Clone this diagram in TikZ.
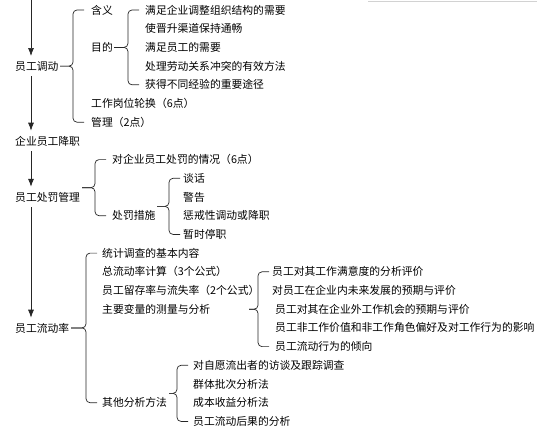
\documentclass[tikz,border=0pt]{standalone}
\usepackage{fontspec}
\setmainfont{Noto Sans CJK SC}
\usetikzlibrary{arrows.meta}

\begin{document}
\begin{tikzpicture}[x=1pt,y=-1pt,
  txt/.style={anchor=west,inner sep=0pt,font=\fontsize{10.8}{13}\selectfont},
  main/.style={txt,inner ysep=5pt},
  brc/.style={rounded corners=4pt,line width=0.7pt,black!85},
  arr/.style={-{Latex[length=8pt,width=6pt]},line width=0.7pt,black!85}]
  \useasboundingbox (0,0) rectangle (537,437);
  \def\r{18.7}
  \draw[gray!35] (368,1) -- (537,1);
  % colonna principale
  \coordinate (top) at (31,0);
  \node[main] (diaodong) at (15,10+3*\r)  {员工调动};
  \node[main] (jiangzhi) at (15,10+7*\r)  {企业员工降职};
  \node[main] (chufa)    at (15,10+10*\r) {员工处罚管理};
  \node[main] (liudong)  at (15,10+17*\r) {员工流动率};
  \draw[arr] (top) -- (diaodong.north -| top);
  \draw[arr] (diaodong.south -| top) -- (jiangzhi.north -| top);
  \draw[arr] (jiangzhi.south -| top) -- (chufa.north -| top);
  \draw[arr] (chufa.south -| top) -- (liudong.north -| top);

  %员工调动
  \node[txt] (hanyi)   at (91,10+0*\r) {含义};
  \node[txt] (mudi)    at (91,10+2*\r) {目的};
  \node[txt] (lunhuan) at (91,10+5*\r) {工作岗位轮换（6点）};
  \node[txt] (guanli)  at (91,10+6*\r) {管理（2点）};
  \foreach \t [count=\i from 0] in {满足企业调整组织结构的需要,使晋升渠道保持通畅,
    满足员工的需要,处理劳动关系冲突的有效方法,获得不同经验的重要途径}
    \node[txt] (md\i) at (145,10+\i*\r) {\t};

  % 员工处罚管理
  \node[txt] (qingkuang) at (112,10+8*\r)  {对企业员工处罚的情况（6点）};
  \node[txt] (cuoshi)    at (112,10+11*\r) {处罚措施};
  \foreach \t [count=\i from 9] in {谈话,警告,惩戒性调动或降职,暂时停职}
    \node[txt] (cs\i) at (183,10+\i*\r) {\t};

  % 员工流动率
  \node[txt] (tongji)  at (102,10+13*\r) {统计调查的基本内容};
  \node[txt] (zong)    at (102,10+14*\r) {总流动率计算（3个公式）};
  \node[txt] (liucun)  at (102,10+15*\r) {员工留存率与流失率（2个公式）};
  \node[txt] (bianliang) at (102,10+16*\r) {主要变量的测量与分析};
  \node[txt] (qita)    at (102,10+21*\r) {其他分析方法};
  \foreach \x/\t [count=\i from 14] in {272/员工对其工作满意度的分析评价,
    272/对员工在企业内未来发展的预期与评价,275/员工对其在企业外工作机会的预期与评价,
    275/员工非工作价值和非工作角色偏好及对工作行为的影响,275/员工流动行为的倾向}
    \node[txt] (bl\i) at (\x,10+\i*\r) {\t};
  \foreach \t [count=\i from 19] in {对自愿流出者的访谈及跟踪调查,群体批次分析法,
    成本收益分析法,员工流动后果的分析}
    \node[txt] (qt\i) at (193,10+\i*\r) {\t};

  % parentesi: estremo destro / punta / riga alta / riga bassa
  \foreach \e/\t/\a/\b in {84/60/0/6, 139/114/0/4, 106/82/8/11, 180/157/9/12,
    97/71/13/21, 269/249/14/18, 188/169/19/22} {
    \draw[brc] (\e,10+\a*\r) -- (\e-11,10+\a*\r) -- (\e-11,{10+(\a+\b)*\r/2}) -- (\t,{10+(\a+\b)*\r/2});
    \draw[brc] (\t,{10+(\a+\b)*\r/2}) -- (\e-11,{10+(\a+\b)*\r/2}) -- (\e-11,10+\b*\r) -- (\e,10+\b*\r);
  }
\end{tikzpicture}
\end{document}
